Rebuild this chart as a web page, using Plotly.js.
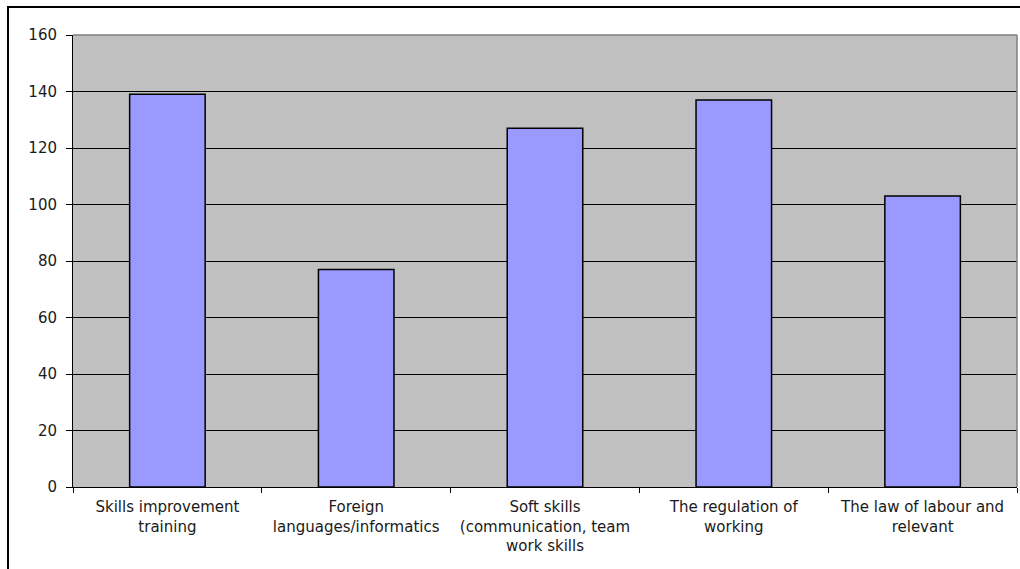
<!DOCTYPE html>
<html>
<head>
<meta charset="utf-8">
<script src="https://cdn.plot.ly/plotly-3.0.1.min.js"></script>
<style>
  html, body { margin: 0; padding: 0; background: #fff; overflow: hidden; }
  #chart { width: 1020px; height: 569px; position: absolute; left: 0; top: 0; }
  #frame { position: absolute; left: 7px; top: 6px; width: 1040px; height: 620px;
           border-left: 2px solid #000; border-top: 2px solid #000; pointer-events: none; }
</style>
</head>
<body>
<div id="chart"></div>
<div id="frame"></div>
<script>
// Training topics and number of responses
const categories = [
  "Skills improvement<br>training",
  "Foreign<br>languages/informatics",
  "Soft skills<br>(communication, team<br>work skills",
  "The regulation of<br>working",
  "The law of labour and<br>relevant"
];
const counts = [139, 77, 127, 137, 103];
const yTicks = [0, 20, 40, 60, 80, 100, 120, 140, 160];

const font = { family: "DejaVu Sans, Verdana, sans-serif", size: 15, color: "#1a1a1a" };

const trace = {
  type: "bar",
  x: categories,
  y: counts,
  width: 0.4,
  marker: { color: "#9999FF", line: { color: "#000", width: 1.5 } },
  hoverinfo: "x+y"
};

const layout = {
  width: 1020,
  height: 569,
  margin: { l: 73, r: 3, t: 35, b: 82 },
  paper_bgcolor: "rgba(0,0,0,0)",
  plot_bgcolor: "#C0C0C0",
  font: font,
  showlegend: false,
  bargap: 0.6,
  xaxis: {
    type: "category",
    tickson: "boundaries",
    ticks: "outside",
    ticklen: 5,
    tickcolor: "#000",
    showline: true,
    linecolor: "#000",
    linewidth: 1,
    showgrid: false,
    tickangle: 0,
    ticklabelstandoff: 6,
    tickfont: font,
    fixedrange: true
  },
  yaxis: {
    range: [0, 160],
    tickvals: yTicks,
    ticks: "outside",
    ticklen: 6,
    tickcolor: "#000",
    showline: true,
    linecolor: "#000",
    linewidth: 1,
    showgrid: true,
    gridcolor: "#000",
    gridwidth: 1,
    zeroline: false,
    ticklabelstandoff: 6,
    tickfont: font,
    fixedrange: true
  },
  shapes: [
    { type: "line", xref: "paper", yref: "paper", x0: 0, x1: 1, y0: 1, y1: 1,
      line: { color: "#808080", width: 1.5 } },
    { type: "line", xref: "paper", yref: "paper", x0: 1, x1: 1, y0: 0, y1: 1,
      line: { color: "#808080", width: 1.5 } }
  ]
};

Plotly.newPlot("chart", [trace], layout, { displayModeBar: false, staticPlot: true });
</script>
</body>
</html>
